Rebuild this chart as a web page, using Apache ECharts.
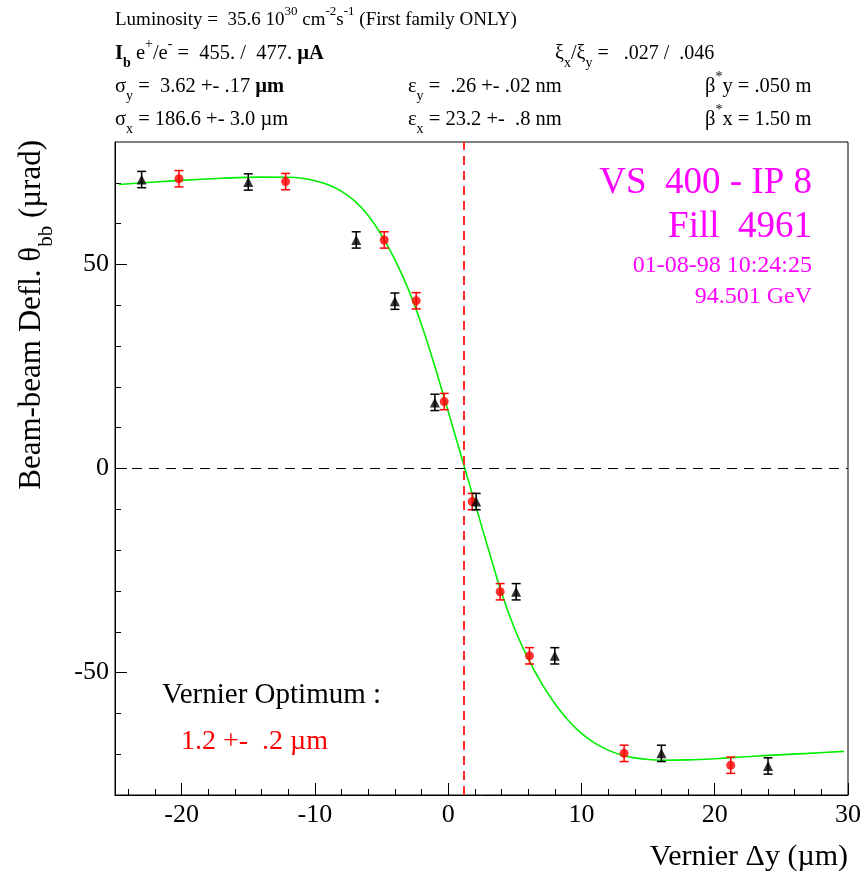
<!DOCTYPE html>
<html>
<head>
<meta charset="utf-8">
<script src="https://cdn.jsdelivr.net/npm/echarts@6/dist/echarts.min.js"></script>
<style>
  html, body { margin: 0; padding: 0; background: #fff; }
  #main { width: 864px; height: 876px; }
</style>
</head>
<body>
<div id="main"></div>
<script>
// measured points (x in um, y in urad), errors in urad
var redX = [-20.2, -12.2, -4.8, -2.4, -0.3, 1.8, 3.9, 6.1, 13.2, 21.2]
var redY = [71.0, 70.3, 56.0, 41.1, 16.4, -8.1, -30.2, -45.9, -69.8, -72.7]
var redErr = [2, 2, 2, 2, 2, 2, 2, 2, 2, 2]

var blackX = [-23.0, -15.0, -6.9, -4.0, -1.0, 2.1, 5.1, 8.0, 16.0, 24.0]
var blackY = [70.8, 70.2, 56.0, 41.0, 16.2, -8.1, -30.2, -45.9, -69.8, -72.9]
var blackErr = [2, 2, 2, 2, 2, 2, 2, 2, 2, 2]

// fit curve
var fitX = [-24.7, -22, -20, -17, -14, -12, -11, -10, -9, -8, -7, -6, -5, -4, -3, -2, -1, 0, 1, 1.25, 2, 3, 4, 5, 6, 7, 8, 9, 10, 11, 12, 13, 14, 15, 16, 18, 20, 22, 24, 27, 29.7]
var fitY = [69.6, 70.2, 70.6, 71.1, 71.4, 71.35, 71.1, 70.5, 69.5, 67.9, 65.5, 62.0, 57.2, 51.2, 44.0, 35.2, 25.0, 14.0, 2.8, 0, -8.4, -19.6, -30.4, -39.4, -46.6, -52.6, -57.6, -61.7, -64.9, -67.3, -69.0, -70.2, -70.9, -71.3, -71.5, -71.4, -71.1, -70.7, -70.3, -69.8, -69.3]

var vernierOpt = 1.2

var xMajor = [-20, -10, 0, 10, 20, 30]
var xMinor = [-24, -22, -18, -16, -14, -12, -8, -6, -4, -2, 2, 4, 6, 8, 12, 14, 16, 18, 22, 24, 26, 28]
var yMajor = [-50, 0, 50]
var yMinor = [-70, -60, -40, -30, -20, -10, 10, 20, 30, 40, 60, 70]

var FONT = 'Liberation Serif'

function zip3(xs, ys, es) {
  return xs.map(function(x, i) { return [x, ys[i], es[i]] })
}

function errBar(color) {
  return function(params, api) {
    var x = api.value(0), y = api.value(1), e = api.value(2)
    var lo = api.coord([x, y - e])
    var hi = api.coord([x, y + e])
    var w = 4.5
    var st = { stroke: color, lineWidth: 1.5 }
    return {
      type: 'group',
      children: [
        { type: 'line', shape: { x1: lo[0], y1: lo[1], x2: hi[0], y2: hi[1] }, style: st },
        { type: 'line', shape: { x1: lo[0] - w, y1: lo[1], x2: lo[0] + w, y2: lo[1] }, style: st },
        { type: 'line', shape: { x1: hi[0] - w, y1: hi[1], x2: hi[0] + w, y2: hi[1] }, style: st }
      ]
    }
  }
}

function richFor(size) {
  var small = Math.round(size * 0.68)
  return {
    sub: { fontFamily: FONT, fontSize: small, verticalAlign: 'bottom', lineHeight: small + 1 },
    sup: { fontFamily: FONT, fontSize: small, verticalAlign: 'top', lineHeight: small + 1 },
    bd: { fontFamily: FONT, fontSize: size, fontWeight: 'bold' },
    bsub: { fontFamily: FONT, fontSize: small, fontWeight: 'bold', verticalAlign: 'bottom', lineHeight: small + 1 }
  }
}

function label(x, y, text, size, color, align) {
  return {
    type: 'text',
    x: x,
    y: y,
    style: {
      text: text,
      fontFamily: FONT,
      fontSize: size,
      lineHeight: Math.round(size * 1.6),
      fill: color || '#000',
      align: align || 'left',
      verticalAlign: 'middle',
      rich: richFor(size)
    }
  }
}

var myChart = echarts.init(document.getElementById('main'))

var axisTxt = { fontFamily: FONT, fontSize: 26, color: '#000' }

var option = {
  animation: false,
  backgroundColor: '#fff',
  grid: {
    left: 115, right: 14, top: 142, bottom: 81,
    show: true, borderColor: '#000', borderWidth: 1
  },
  xAxis: [{
    type: 'value', min: -25, max: 30, position: 'bottom',
    axisLine: { onZero: false, lineStyle: { color: '#000', width: 1 } },
    axisTick: { inside: true, length: 12, customValues: xMajor, lineStyle: { color: '#000' } },
    axisLabel: Object.assign({ customValues: xMajor, margin: 7 }, axisTxt),
    splitLine: { show: false }
  }, {
    type: 'value', min: -25, max: 30, position: 'bottom',
    axisLine: { show: false, onZero: false },
    axisTick: { inside: true, length: 6, customValues: xMinor, lineStyle: { color: '#000' } },
    axisLabel: { show: false },
    splitLine: { show: false }
  }],
  yAxis: [{
    type: 'value', min: -80, max: 80, position: 'left',
    axisLine: { onZero: false, lineStyle: { color: '#000', width: 1 } },
    axisTick: { inside: true, length: 12, customValues: yMajor, lineStyle: { color: '#000' } },
    axisLabel: Object.assign({ customValues: yMajor, margin: 6 }, axisTxt),
    splitLine: { show: false }
  }, {
    type: 'value', min: -80, max: 80, position: 'left',
    axisLine: { show: false, onZero: false },
    axisTick: { inside: true, length: 6, customValues: yMinor, lineStyle: { color: '#000' } },
    axisLabel: { show: false },
    splitLine: { show: false }
  }],
  series: [{
    type: 'line',
    data: fitX.map(function(x, i) { return [x, fitY[i]] }),
    smooth: 0.3,
    showSymbol: false,
    lineStyle: { color: '#00ee00', width: 1.6 },
    z: 2,
    markLine: {
      silent: true,
      symbol: ['none', 'none'],
      label: { show: false },
      data: [
        { yAxis: 0, lineStyle: { color: '#000', width: 1.2, type: [10, 7] } },
        { xAxis: vernierOpt, lineStyle: { color: '#ff2a2a', width: 2, type: [9, 6] } }
      ]
    }
  }, {
    type: 'custom',
    renderItem: errBar('#ff0000'),
    data: zip3(redX, redY, redErr),
    encode: { x: 0, y: 1 },
    z: 3
  }, {
    type: 'custom',
    renderItem: errBar('#000'),
    data: zip3(blackX, blackY, blackErr),
    encode: { x: 0, y: 1 },
    z: 3
  }, {
    type: 'scatter',
    data: redX.map(function(x, i) { return [x, redY[i]] }),
    symbol: 'circle',
    symbolSize: 9,
    itemStyle: { color: '#ff0000' },
    z: 4
  }, {
    type: 'scatter',
    data: blackX.map(function(x, i) { return [x, blackY[i]] }),
    symbol: 'triangle',
    symbolSize: 10,
    itemStyle: { color: '#000' },
    z: 4
  }],
  graphic: [
    label(115, 20, 'Luminosity =  35.6 10{sup|30} cm{sup|-2}s{sup|-1} (First family ONLY)', 19),
    label(115, 54, '{bd|I}{bsub|b} e{sup|+}/e{sup|-} =  455. /  477. {bd|µA}', 20.5),
    label(555, 54, 'ξ{sub|x}/ξ{sub|y} =   .027 /  .046', 20),
    label(115, 87, 'σ{sub|y} =  3.62 +- .17 {bd|µm}', 20.5),
    label(408, 87, 'ε{sub|y} =  .26 +- .02 nm', 20.5),
    label(705, 87, 'β{sup|*}y = .050 m', 20.5),
    label(115, 120, 'σ{sub|x} = 186.6 +- 3.0 µm', 20.5),
    label(408, 120, 'ε{sub|x} = 23.2 +-  .8 nm', 20.5),
    label(705, 120, 'β{sup|*}x = 1.50 m', 20.5),
    label(812, 183, 'VS  400 - IP 8', 37, '#ff00ff', 'right'),
    label(812, 227, 'Fill  4961', 37, '#ff00ff', 'right'),
    label(812, 266, '01-08-98 10:24:25', 24, '#ff00ff', 'right'),
    label(812, 297, '94.501 GeV', 24, '#ff00ff', 'right'),
    label(162, 695, 'Vernier Optimum :', 29),
    label(181, 742, '1.2 +-  .2 µm', 28, '#ff0000'),
    label(848, 857, 'Vernier Δy (µm)', 30, '#000', 'right'),
    Object.assign(label(32, 140, 'Beam-beam Defl. θ{sub|bb} (µrad)', 31, '#000', 'right'), { rotation: Math.PI / 2 })
  ]
}

myChart.setOption(option)
</script>
</body>
</html>
